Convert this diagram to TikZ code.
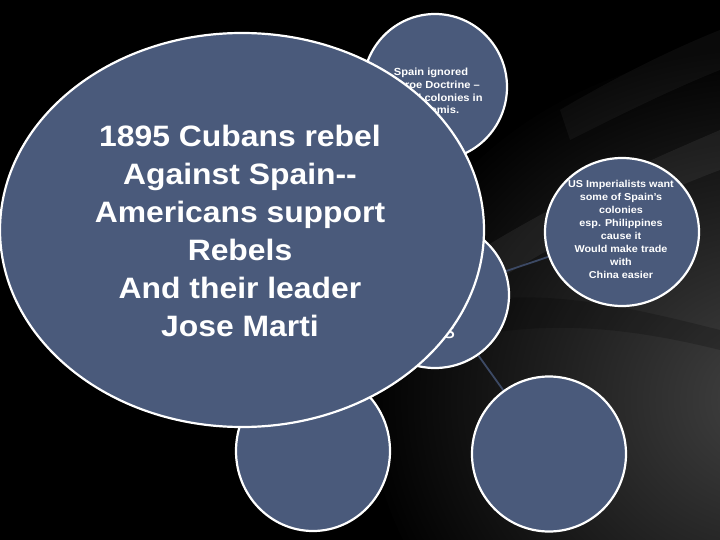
\documentclass[tikz,border=0pt]{standalone}
\usepackage{fontspec}
\setmainfont{Liberation Sans}
\newfontfamily\widefnt{Liberation Sans}[FakeStretch=1.08]
\usetikzlibrary{shapes.geometric}
\definecolor{slate}{HTML}{4A5A7B}
\definecolor{linkc}{HTML}{3C4964}
\pgfdeclarelayer{bg}
\pgfsetlayers{bg,main}
\begin{document}
\begin{tikzpicture}[x=1pt,y=-1pt,
  bubble/.style={ellipse, draw=white, line width=2.2pt, fill=slate, inner sep=0pt},
  link/.style={draw=linkc, line width=1.8pt},
  bigtxt/.style={text=white, align=center, font=\widefnt\bfseries\fontsize{29.5}{38}\selectfont},
  smalltxt/.style={text=white, align=center, font=\widefnt\bfseries\fontsize{10}{13.1}\selectfont},
  toptxt/.style={text=white, align=center, font=\widefnt\bfseries\fontsize{10.3}{12.8}\selectfont}]
\useasboundingbox (0,0) rectangle (720,540);
\begin{pgfonlayer}{bg}
  \fill[black] (0,0) rectangle (720,540);
  \begin{scope}
    \clip (0,0) rectangle (720,540);
    \foreach \i in {0,...,59} {
      \fill[white, opacity=0.0095] (770,400) ellipse [x radius={400-6.2*\i}, y radius={350-5.4*\i}];
    }
    \fill[white, opacity=0.06] (480,250) .. controls (560,200) and (650,160) .. (720,130)
      -- (720,170) .. controls (640,200) and (560,240) .. (490,285) -- cycle;
    \fill[white, opacity=0.04] (560,110) .. controls (610,80) and (670,50) .. (720,30)
      -- (720,70) .. controls (670,90) and (620,115) .. (570,140) -- cycle;
    \fill[black, opacity=0.2] (480,300) .. controls (560,290) and (640,310) .. (720,330)
      -- (720,350) .. controls (640,330) and (560,320) .. (480,335) -- cycle;
  \end{scope}
\end{pgfonlayer}

\node[bubble, minimum width=154pt, minimum height=160pt] (bl) at (313,451) {};
\node[bubble, minimum width=154pt, minimum height=155pt] (br) at (549,454) {};
\node[bubble, minimum width=154pt, minimum height=148pt] (right) at (622,232) {};
\node[smalltxt] (righttext) at (621,229.5) {US Imperialists want\\some of Spain’s\\colonies\\esp. Philippines\\cause it\\Would make trade\\with\\China easier};
\node[bubble, minimum width=148pt, minimum height=146pt] (mid) at (435,295) {};
\node[text=white, font=\fontsize{24}{28}\selectfont, inner sep=0pt] (midtext) at (449,332) {s};
\node[bubble, minimum width=144pt, minimum height=146pt] (top) at (435,87) {};
\node[toptxt] (toptext) at (431,91) {Spain ignored\\Monroe Doctrine –\\still had colonies in\\the Hemis.};

\begin{pgfonlayer}{bg}
  \draw[link] (mid) -- (right);
  \draw[link] (mid) -- (br);
\end{pgfonlayer}

\node[bubble, minimum width=484pt, minimum height=394pt] (big) at (242,230) {};
\node[bigtxt] (bigtext) at (240,230.5) {1895 Cubans rebel\\Against Spain--\\Americans support\\Rebels\\And their leader\\Jose Marti};
\end{tikzpicture}
\end{document}
